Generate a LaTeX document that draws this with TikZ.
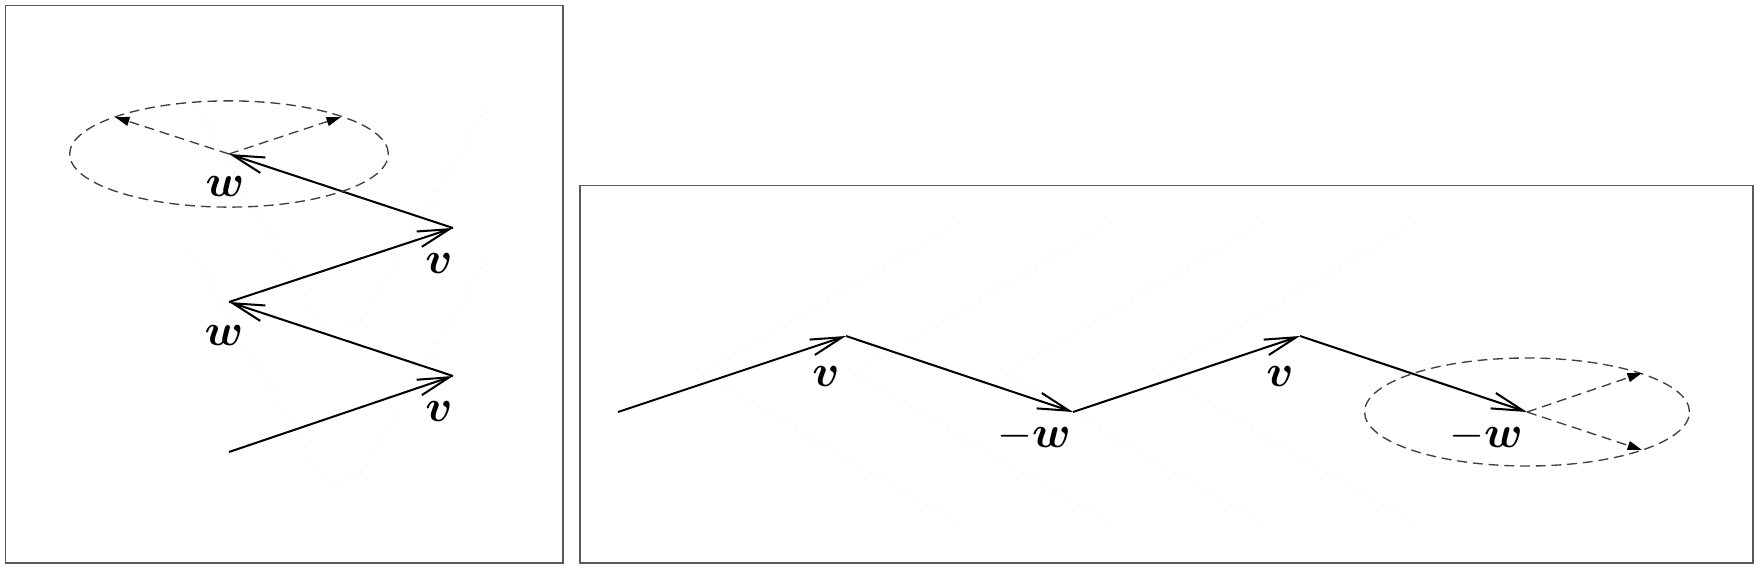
\documentclass[tikz,border=0pt]{standalone}
\usepackage{amsmath,bm}
\usetikzlibrary{arrows.meta}

\begin{document}
\begin{tikzpicture}[x=0.2222pt,y=-0.2222pt,line width=0.45pt,>={Straight Barb[length=7pt,width=3.6pt]}]
  \tikzstyle{frame}=[draw=black!65,line width=0.33pt]
  \tikzstyle{vec}=[->,line width=0.45pt]
  \tikzstyle{swing}=[black!75,line width=0.3pt,dash pattern=on 2.2pt off 1.3pt]
  \tikzstyle{turn}=[swing,-{Triangle[length=3.2pt,width=2pt,color=black]}]
  \tikzstyle{ghost}=[black!4,line width=0.4pt,dotted]
  \tikzstyle{lbl}=[inner sep=0pt]

  \useasboundingbox (0,0) rectangle (1762,570);
  \draw[frame] (5.6,5.6) rectangle (563,563);
  \draw[frame] (580,185.4) rectangle (1753,563);

  % faint guides
  \foreach \i in {0,1}
    \draw[ghost,rounded corners=12pt] (191,{250-152*\i}) -- (341,{510-152*\i}) -- (491,{250-152*\i});
  \foreach \i in {0,...,3}
    \draw[ghost] ({960+152*\i},223) -- ({700+152*\i},373) -- ({960+152*\i},525);

  % left: v and w
  \coordinate (a_0) at (229,452);
  \coordinate (a_1) at (453,376);
  \coordinate (a_2) at (229,302);
  \coordinate (a_3) at (453,228);
  \coordinate (a_4) at (229,154);
  \coordinate (a_5) at (115,117);
  \coordinate (a_6) at (341,117);

  \node[lbl] (lv_1) at (439,411) {$\bm{v}$};
  \node[lbl] (lw_1) at (224,335) {$\bm{w}$};
  \node[lbl] (lv_2) at (439,263) {$\bm{v}$};
  \node[lbl] (lw_2) at (225,186) {$\bm{w}$};

  \draw[vec] (a_0) -- (a_1);
  \draw[vec] (a_1) -- (a_2);
  \draw[vec] (a_2) -- (a_3);
  \draw[vec] (a_3) -- (a_4);

  \draw[swing] (a_4) ellipse [x radius=35.4pt,y radius=11.8pt];
  \draw[turn] (a_4) -- (a_5);
  \draw[turn] (a_4) -- (a_6);

  % right: v and -w
  \coordinate (b_0) at (618,412);
  \coordinate (b_1) at (846,336);
  \coordinate (b_2) at (1073,412);
  \coordinate (b_3) at (1300,336);
  \coordinate (b_4) at (1527,412);
  \coordinate (b_5) at (1642,373);
  \coordinate (b_6) at (1642,450);

  \node[lbl] (rv_1) at (826,376) {$\bm{v}$};
  \node[lbl] (rw_1) at (1034,436) {$-\bm{w}$};
  \node[lbl] (rv_2) at (1280,376) {$\bm{v}$};
  \node[lbl] (rw_2) at (1486,436) {$-\bm{w}$};

  \draw[vec] (b_0) -- (b_1);
  \draw[vec] (b_1) -- (b_2);
  \draw[vec] (b_2) -- (b_3);
  \draw[vec] (b_3) -- (b_4);

  \draw[swing] (b_4) ellipse [x radius=36.1pt,y radius=12pt];
  \draw[turn] (b_4) -- (b_5);
  \draw[turn] (b_4) -- (b_6);
\end{tikzpicture}
\end{document}
